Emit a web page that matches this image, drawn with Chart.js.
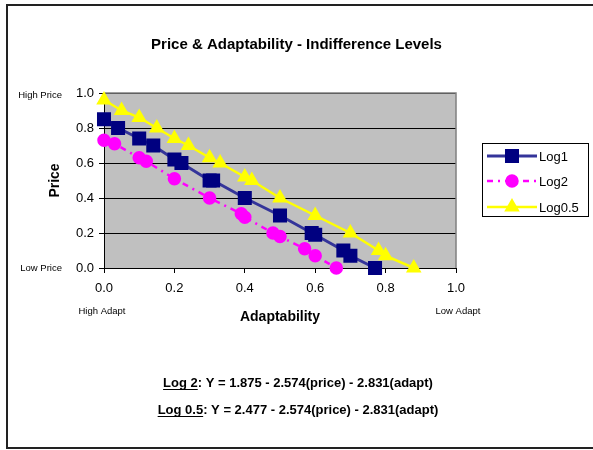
<!DOCTYPE html>
<html>
<head>
<meta charset="utf-8">
<script src="https://cdn.jsdelivr.net/npm/chart.js@4/dist/chart.umd.min.js"></script>
<style>
  body { margin: 0; background: #fff; }
  #wrap { width: 593px; height: 450px; }
</style>
</head>
<body>
<div id="wrap"><canvas id="indiffChart" width="593" height="450"></canvas></div>
<script>
const seriesNames = ['Log1', 'Log2', 'Log0.5'];
const log1Adapt = [0.0, 0.04, 0.1, 0.14, 0.2, 0.22, 0.3, 0.31, 0.4, 0.5, 0.59, 0.6, 0.68, 0.7, 0.77];
const log1Price = [0.85, 0.8, 0.74, 0.7, 0.62, 0.6, 0.5, 0.5, 0.4, 0.3, 0.2, 0.19, 0.1, 0.07, 0.0];
const log2Adapt = [0.0, 0.03, 0.1, 0.12, 0.2, 0.3, 0.39, 0.4, 0.48, 0.5, 0.57, 0.6, 0.66];
const log2Price = [0.73, 0.71, 0.63, 0.61, 0.51, 0.4, 0.31, 0.29, 0.2, 0.18, 0.11, 0.07, 0.0];
const log05Adapt = [0.0, 0.05, 0.1, 0.15, 0.2, 0.24, 0.3, 0.33, 0.4, 0.42, 0.5, 0.6, 0.7, 0.78, 0.8, 0.88];
const log05Price = [0.96, 0.9, 0.86, 0.8, 0.74, 0.7, 0.63, 0.6, 0.52, 0.5, 0.4, 0.3, 0.2, 0.1, 0.07, 0.0];
const axisTicks = [0.0, 0.2, 0.4, 0.6, 0.8, 1.0];
const equations = [
  { name: 'Log 2', rest: ': Y = 1.875 - 2.574(price) - 2.831(adapt)' },
  { name: 'Log 0.5', rest: ': Y = 2.477 - 2.574(price) - 2.831(adapt)' }
];

const FONT = 'Arial, "Liberation Sans", sans-serif';
const toPoints = (xs, ys) => xs.map((x, i) => ({ x: x, y: ys[i] }));

// gray plot area, outer frame
const backdrop = {
  id: 'backdrop',
  beforeDraw(chart) {
    const { ctx, chartArea: a } = chart;
    ctx.save();
    ctx.fillStyle = '#fff';
    ctx.fillRect(0, 0, chart.width, chart.height);
    ctx.strokeStyle = '#222';
    ctx.lineWidth = 2;
    ctx.strokeRect(7, 5, 620, 443);
    ctx.fillStyle = '#c0c0c0';
    ctx.fillRect(a.left, a.top, a.right - a.left, a.bottom - a.top);
    ctx.restore();
  },
  beforeDatasetsDraw(chart) {
    const { ctx, chartArea: a } = chart;
    ctx.save();
    ctx.strokeStyle = '#808080';
    ctx.lineWidth = 1.5;
    ctx.beginPath();
    ctx.moveTo(a.left + 1, a.top);
    ctx.lineTo(a.right, a.top);
    ctx.lineTo(a.right, a.bottom);
    ctx.stroke();
    ctx.restore();
  }
};

// extra labels, custom legend and equations
const extras = {
  id: 'extras',
  afterDraw(chart) {
    const { ctx } = chart;
    const xs = chart.scales.x, ys = chart.scales.y;
    ctx.save();
    ctx.fillStyle = '#000';
    ctx.font = '9.5px ' + FONT;
    ctx.textBaseline = 'middle';
    ctx.textAlign = 'right';
    ctx.fillText('High Price', 62, ys.getPixelForValue(1) + 2);
    ctx.fillText('Low Price', 62, ys.getPixelForValue(0));
    ctx.textAlign = 'center';
    ctx.fillText('High Adapt', xs.getPixelForValue(0) - 2, 311);
    ctx.fillText('Low Adapt', xs.getPixelForValue(1) + 2, 311);

    // legend
    ctx.strokeStyle = '#000';
    ctx.lineWidth = 1;
    ctx.strokeRect(482.5, 143.5, 106, 73);
    const rows = [156, 181, 207];
    chart.data.datasets.forEach((ds, i) => {
      const y = rows[i];
      ctx.save();
      ctx.strokeStyle = ds.borderColor;
      ctx.lineWidth = ds.borderWidth;
      ctx.setLineDash(ds.borderDash || []);
      ctx.beginPath();
      ctx.moveTo(487, y);
      ctx.lineTo(537, y);
      ctx.stroke();
      ctx.setLineDash([]);
      ctx.fillStyle = ds.pointBackgroundColor;
      ctx.strokeStyle = ds.pointBorderColor;
      Chart.helpers.drawPoint(ctx, { pointStyle: ds.pointStyle, radius: ds.pointRadius, borderWidth: 1 }, 512, y);
      ctx.restore();
      ctx.fillStyle = '#000';
      ctx.font = '13px ' + FONT;
      ctx.textAlign = 'left';
      ctx.fillText(ds.label, 539, y + 1);
    });

    // equations
    ctx.font = 'bold 13px ' + FONT;
    ctx.textAlign = 'left';
    ctx.textBaseline = 'alphabetic';
    ctx.strokeStyle = '#000';
    ctx.lineWidth = 1.2;
    [387, 414].forEach((y, i) => {
      const eq = equations[i];
      const w1 = ctx.measureText(eq.name).width;
      const w = w1 + ctx.measureText(eq.rest).width;
      const x0 = 298 - w / 2;
      ctx.fillText(eq.name, x0, y);
      ctx.fillText(eq.rest, x0 + w1, y);
      ctx.beginPath();
      ctx.moveTo(x0, y + 2.5);
      ctx.lineTo(x0 + w1, y + 2.5);
      ctx.stroke();
    });
    ctx.restore();
  }
};

const ctx = document.getElementById('indiffChart').getContext('2d');
const chart = new Chart(ctx, {
  type: 'line',
  data: {
    datasets: [
      {
        label: seriesNames[0],
        data: toPoints(log1Adapt, log1Price),
        borderColor: '#34349a',
        borderWidth: 3,
        pointStyle: 'rect',
        pointRadius: 7.8,
        pointBackgroundColor: '#000080',
        pointBorderColor: '#000080',
        clip: false
      },
      {
        label: seriesNames[1],
        data: toPoints(log2Adapt, log2Price),
        borderColor: '#ff00ff',
        borderWidth: 2.5,
        borderDash: [6, 5, 2, 5],
        pointStyle: 'circle',
        pointRadius: 5.5,
        pointBackgroundColor: '#ff00ff',
        pointBorderColor: '#ff00ff',
        clip: false
      },
      {
        label: seriesNames[2],
        data: toPoints(log05Adapt, log05Price),
        borderColor: '#ffff00',
        borderWidth: 2.5,
        pointStyle: 'triangle',
        pointRadius: 6.5,
        pointBackgroundColor: '#ffff00',
        pointBorderColor: '#ffff00',
        clip: false
      }
    ]
  },
  options: {
    responsive: false,
    animation: false,
    layout: { padding: 0 },
    scales: {
      x: {
        type: 'linear',
        min: 0,
        max: 1,
        afterFit: s => { s.height = 182; },
        afterBuildTicks: s => { s.ticks = axisTicks.map(v => ({ value: v })); },
        ticks: { color: '#000', font: { family: FONT, size: 13 }, padding: 8, callback: v => v.toFixed(1) },
        grid: { drawOnChartArea: false, drawTicks: true, tickLength: 5, tickColor: '#000' },
        border: { display: true, color: '#000', width: 1 },
        title: { display: true, text: 'Adaptability', color: '#000', font: { family: FONT, size: 14, weight: 'bold' }, padding: { top: 0, bottom: 124 } }
      },
      y: {
        min: 0,
        max: 1,
        afterFit: s => { s.width = 104; },
        afterBuildTicks: s => { s.ticks = axisTicks.map(v => ({ value: v })); },
        ticks: { color: '#000', font: { family: FONT, size: 13 }, padding: 5, callback: v => v.toFixed(1) },
        grid: { color: '#000', lineWidth: 1, drawTicks: true, tickLength: 5, tickColor: '#000' },
        border: { display: true, color: '#000', width: 1 },
        title: { display: true, text: 'Price', color: '#000', font: { family: FONT, size: 14, weight: 'bold' }, padding: { top: 47, bottom: 0 } }
      },
      // empty right-hand strip that leaves room for the legend
      side: {
        position: 'right',
        min: 0,
        max: 1,
        afterFit: s => { s.width = 137; },
        ticks: { display: false },
        grid: { display: false, drawTicks: false },
        border: { display: false }
      }
    },
    plugins: {
      legend: { display: false },
      tooltip: { enabled: false },
      title: {
        display: true,
        text: 'Price & Adaptability - Indifference Levels',
        color: '#000',
        font: { family: FONT, size: 15, weight: 'bold' },
        padding: { top: 36, bottom: 39 }
      }
    }
  },
  plugins: [backdrop, extras]
});
</script>
</body>
</html>
